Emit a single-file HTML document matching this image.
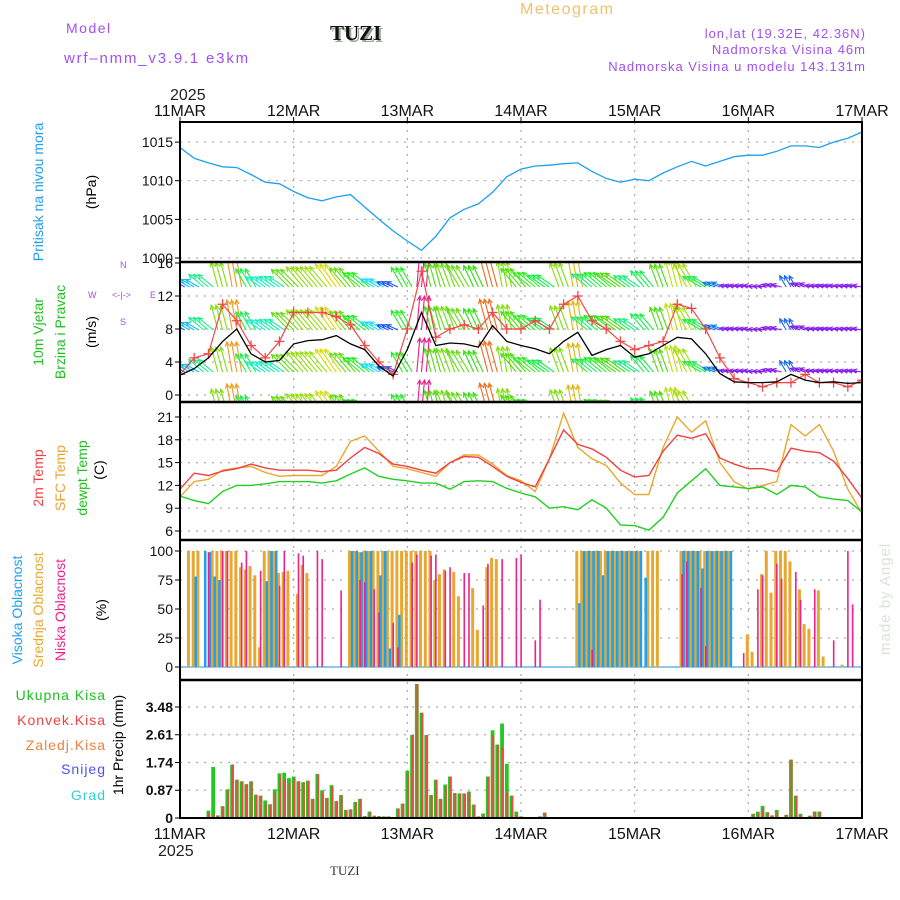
<!DOCTYPE html>
<html><head><meta charset="utf-8"><style>
html,body{margin:0;padding:0;background:#fff;}
svg{display:block;font-family:"Liberation Sans",sans-serif;}
</style></head><body>
<svg id="chart" width="900" height="900" viewBox="0 0 900 900" xmlns="http://www.w3.org/2000/svg">
<rect width="900" height="900" fill="#fff"/>
<text x="66" y="33" font-size="14" fill="#a050f0" letter-spacing="1.5">Model</text>
<text x="64" y="63" font-size="15" fill="#a050f0" letter-spacing="1.8">wrf–nmm_v3.9.1 e3km</text>
<text x="332" y="42" font-size="21" font-weight="bold" font-family="Liberation Serif,serif" fill="#9a9">TUZI</text>
<text x="330" y="40" font-size="21" font-weight="bold" font-family="Liberation Serif,serif" fill="#111">TUZI</text>
<text x="520" y="14" font-size="16" fill="#f0c070" letter-spacing="1.5">Meteogram</text>
<g font-size="13" fill="#a050f0" text-anchor="end" letter-spacing="1">
<text x="866" y="38">lon,lat (19.32E, 42.36N)</text>
<text x="866" y="54">Nadmorska Visina 46m</text>
<text x="866" y="71">Nadmorska Visina u modelu 143.131m</text>
</g>
<text x="170" y="100" font-size="16" fill="#222">2025</text>
<text x="158" y="856" font-size="16" fill="#222">2025</text>
<text x="330" y="875" font-size="13" font-family="Liberation Serif,serif" fill="#333">TUZI</text>
<text transform="translate(890,655) rotate(-90)" font-size="15" fill="#d8e4d8" letter-spacing="1">made by Angel</text>

<g font-size="14">
<text transform="translate(43,192) rotate(-90)" text-anchor="middle" fill="#1ea0f0">Pritisak na nivou mora</text>
<text transform="translate(96,192) rotate(-90)" text-anchor="middle" fill="#000">(hPa)</text>
<text transform="translate(43,332) rotate(-90)" text-anchor="middle" fill="#20c020">10m Vjetar</text>
<text transform="translate(65,332) rotate(-90)" text-anchor="middle" fill="#20c020">Brzina i Pravac</text>
<text transform="translate(96,332) rotate(-90)" text-anchor="middle" fill="#000">(m/s)</text>
<text transform="translate(43,478) rotate(-90)" text-anchor="middle" fill="#f04040">2m Temp</text>
<text transform="translate(65,478) rotate(-90)" text-anchor="middle" fill="#f0a030">SFC Temp</text>
<text transform="translate(87,478) rotate(-90)" text-anchor="middle" fill="#20c020">dewpt Temp</text>
<text transform="translate(104,470) rotate(-90)" text-anchor="middle" fill="#000">(C)</text>
<text transform="translate(22,610) rotate(-90)" text-anchor="middle" fill="#1ea0f0">Visoka Oblacnost</text>
<text transform="translate(43,610) rotate(-90)" text-anchor="middle" fill="#e8a830">Srednja Oblacnost</text>
<text transform="translate(65,610) rotate(-90)" text-anchor="middle" fill="#f0208a">Niska Oblacnost</text>
<text transform="translate(106,610) rotate(-90)" text-anchor="middle" fill="#000">(%)</text>
<text transform="translate(123,745) rotate(-90)" text-anchor="middle" fill="#000">1hr Precip (mm)</text>
</g>
<g font-size="14" text-anchor="end" letter-spacing="1">
<text x="106" y="700" fill="#20c020">Ukupna Kisa</text>
<text x="106" y="725" fill="#f04040">Konvek.Kisa</text>
<text x="106" y="750" fill="#f08040">Zaledj.Kisa</text>
<text x="106" y="774" fill="#5050f0">Snijeg</text>
<text x="106" y="800" fill="#30d0d0">Grad</text>
</g>
<g font-size="9" fill="#a050f0">
<text x="120" y="268">N</text>
<text x="88" y="298">W</text>
<text x="150" y="298">E</text>
<text x="112" y="298">&lt;-|-&gt;</text>
<text x="120" y="325">S</text>
</g>
<g id="plot"></g>
</svg>
<script>
// ---- data (3-hourly, starting 11 MAR 00) ----
const dayLabels = ["11MAR","12MAR","13MAR","14MAR","15MAR","16MAR","17MAR"];
const pressureTicks = [1000,1005,1010,1015];
const windTicks = [0,4,8,12,16];
const tempTicks = [6,9,12,15,18,21];
const cloudTicks = [0,25,50,75,100];
const precipTicks = [0,0.87,1.74,2.61,3.48];
const pressure = [1014.3,1012.9,1012.3,1011.8,1011.7,1010.8,1009.8,1009.6,1008.6,1007.8,1007.4,1007.9,1008.2,1006.6,1005.0,1003.5,1002.2,1001.0,1002.8,1005.2,1006.3,1007.0,1008.5,1010.5,1011.5,1011.9,1012.0,1012.2,1012.3,1011.2,1010.3,1009.8,1010.2,1010.0,1011.0,1011.8,1012.5,1011.9,1012.5,1013.1,1013.3,1013.3,1013.8,1014.5,1014.5,1014.3,1015.0,1015.5,1016.3];
const windSpeed = [2.4,3.2,4.5,6.5,8.0,5.0,4.0,4.2,6.2,6.6,6.7,7.2,6.2,5.5,3.5,2.3,5.5,10.0,6.0,6.3,6.2,5.8,8.4,6.5,6.0,5.6,5.0,6.5,7.6,4.8,5.5,6.0,4.6,5.0,6.0,7.0,6.8,5.0,2.6,1.6,1.5,1.5,1.6,2.5,1.8,1.5,1.6,1.4,1.5];
const windGust = [2.5,4.5,5,11,9,6,4.5,6.5,10,10,10,9.5,8.5,6,4,2.5,8,15,7,8,8.5,8,10,8,8,9,8,11,12,9,8,6.5,5.5,6,6.5,11,10.5,8,4.5,2,1.5,1,1.5,1.5,2.5,1.5,1.5,1,1.8];
const windDir = [-60,-60,-50,-15,-10,-30,-55,-55,-45,-40,-40,-35,-40,-50,-60,-65,-30,5,-15,-20,-30,-25,-15,-10,-40,-50,-55,-20,-10,-50,-50,-55,-55,-40,-20,-15,-30,-60,-70,-80,-80,-85,-75,-30,-70,-80,-80,-80,-80];
const temp2m = [11.5,13.6,13.3,13.9,14.2,14.8,14.3,14.0,14.0,14.0,13.8,14.0,15.6,17.0,16.2,14.8,14.5,14.0,13.6,15.0,15.8,15.7,14.5,13.2,12.4,11.8,15.5,19.3,17.4,16.8,15.7,14.0,13.1,13.3,16.5,18.6,18.2,18.8,15.6,14.8,14.2,14.2,13.8,16.9,16.5,16.3,15.2,12.9,10.3];
const tempSfc = [10.5,12.5,12.8,14.0,14.3,14.5,13.7,13.2,13.3,13.3,13.3,14.5,17.8,18.5,16.5,14.5,14.2,13.7,13.2,15.0,16.0,16.0,14.8,13.3,12.6,11.2,15.5,21.5,17.0,15.5,14.6,12.3,10.8,10.8,17.0,21.0,19.0,20.5,15.0,12.5,11.5,12.0,12.5,20.0,18.5,20.0,16.5,11.5,8.3];
const dewpt = [10.6,10.0,9.6,11.2,12.0,12.0,12.2,12.5,12.5,12.5,12.3,12.6,13.5,14.3,13.2,12.8,12.6,12.3,12.3,11.5,12.5,12.6,12.5,11.6,11.0,10.5,9.0,9.2,8.8,10.1,9.0,6.8,6.7,6.1,7.8,11.0,12.6,14.2,12.0,11.8,11.6,11.8,10.8,12.0,11.8,10.5,10.2,10.0,8.5];
// ---- hourly sparse data ----
const highHours = [3,5,6,7,8,18,19,20,36,37,38,39,40,42,43,44,46,84,85,86,87,88,89,90,91,92,93,94,95,96,97,98,106,107,108,109,110,111,112,113,114,115,116];
const highVals  = [78,100,99,78,75,74,100,100,100,100,99,100,100,79,100,16,45,55,100,100,100,100,79,100,100,100,100,100,100,100,100,77,100,100,100,100,85,100,100,100,100,100,100];
const midHours = [2,3,4,7,8,9,10,11,12,13,14,15,16,17,18,19,20,21,22,23,25,26,27,36,37,38,39,40,41,42,43,44,45,46,47,48,49,50,51,52,53,54,55,56,58,59,62,63,65,66,67,84,85,86,87,88,89,90,91,92,93,94,95,96,97,99,100,101,106,107,108,109,110,111,112,113,114,115,116,120,121,123,124,125,126,127,128,129,131,132,133,135,136,140];
const midVals  = [100,100,100,100,100,100,100,100,100,86,84,87,79,17,100,100,100,81,82,83,63,88,81,100,100,99,100,100,100,100,100,100,100,100,100,100,100,100,100,100,100,75,80,84,82,61,68,32,86,94,93,100,100,100,100,100,100,100,100,100,100,100,100,100,100,100,100,100,100,100,100,100,100,100,100,100,100,100,100,28,13,80,100,64,100,100,100,91,67,37,33,66,9,2];
const lowHours = [6,9,10,13,14,17,21,22,25,26,29,30,34,38,39,41,42,45,46,49,50,53,54,56,57,60,61,64,65,68,71,72,75,76,87,106,107,110,111,119,122,123,126,127,130,131,134,138,141,142];
const lowVals  = [99,100,100,90,100,83,70,100,98,96,100,93,66,75,73,67,47,38,17,90,97,96,97,83,86,81,81,53,89,93,94,97,23,58,15,80,91,68,18,12,67,79,89,76,82,58,67,23,100,54];
const rainHours = [6,7,8,9,10,11,12,13,14,15,16,17,18,19,20,21,22,23,24,25,26,27,28,29,30,31,32,33,34,35,36,37,38,39,40,41,42,43,44,46,47,48,49,50,51,52,53,54,55,56,57,58,59,60,61,62,63,64,65,66,67,68,69,70,71,72,73,76,77,88,110,121,122,123,124,125,126,128,129,130,131,132,133,134,135,136];
const rainTotal = [0.23,1.6,0.08,0.37,0.9,1.67,1.2,1.15,1.06,1.15,0.73,0.7,0.55,0.43,0.9,1.4,1.42,1.25,1.3,1.15,1.12,1.17,0.6,1.38,0.87,0.63,1.03,0.53,0.72,0.25,0.27,0.5,0.6,0.06,0.2,0.07,0.06,0.05,0.05,0.3,0.45,1.48,2.6,4.2,3.3,2.6,0.72,1.2,0.6,1.05,1.3,0.78,0.77,0.77,0.83,0.42,0.05,0.14,1.3,2.75,2.3,2.96,1.7,0.7,0.2,0.05,0.02,0.05,0.17,0.03,0.03,0.13,0.2,0.38,0.18,0.08,0.25,0.1,1.83,0.7,0.13,0.02,0.07,0.2,0.2,0.02];
const rainConv  = [0.15,0.13,0.08,0.37,0.87,1.68,1.2,1.15,1.06,1.15,0.73,0.7,0.45,0.43,0.8,1.35,1.2,1.1,1.25,1.15,1.12,1.17,0.6,1.38,0.8,0.63,1.0,0.53,0.72,0.25,0.27,0.5,0.6,0.06,0.2,0.07,0.06,0.05,0.05,0.3,0.45,1.4,2.6,4.2,3.3,2.6,0.72,1.2,0.6,1.0,1.3,0.78,0.77,0.77,0.8,0.42,0.05,0.1,1.3,2.6,2.3,2.2,0.8,0.7,0.1,0.05,0.02,0.05,0.17,0,0,0.13,0.15,0.3,0.18,0.08,0.2,0.1,1.83,0.7,0.08,0.02,0.07,0.2,0.2,0.02];

// ---- axes ----
const X0=180, X1=862, DAYW=(X1-X0)/6;
const xDay = d => X0 + d*DAYW;
const xHour = h => X0 + h*DAYW/24;
const yP = v => 258 - (v-1000)*7.73;
const yW = v => 395 - v*8.25;
const yT = v => 531 - (v-6)*7.6;
const yC = v => 667 - v*1.16;
const yR = v => 818 - v*31.9;
const NS='http://www.w3.org/2000/svg';
const plot=document.getElementById('plot');
function mk(tag,attrs,parent){const e=document.createElementNS(NS,tag);for(const k in attrs)e.setAttribute(k,attrs[k]);(parent||plot).appendChild(e);return e;}

const defs=mk('defs',{});
const panels=[['clip-p',122,262],['clip-w',262,402],['clip-t',402,540],['clip-c',540,680],['clip-r',680,818]];
panels.forEach(p=>{const c=mk('clipPath',{id:p[0]},defs);mk('rect',{x:X0,y:p[1],width:X1-X0,height:p[2]-p[1]},c);});

const grid=mk('g',{stroke:'#aaa','stroke-width':1.2,'stroke-dasharray':'2 6'});


for(let d=1;d<6;d++){const l=mk('line',{x1:xDay(d),x2:xDay(d),y1:122,y2:818},grid);}
function hgrid(ticks,yf,lo,hi){ticks.forEach(t=>{const y=yf(t);if(y<=lo+1||y>=hi-1)return;const l=mk('line',{x1:X0,x2:X1,y1:y,y2:y},grid);});}
hgrid(pressureTicks,yP,122,262);hgrid(windTicks,yW,262,402);hgrid(tempTicks,yT,402,540);hgrid(cloudTicks,yC,540,680);hgrid(precipTicks,yR,680,818);

const tl=mk('g',{'font-size':14,fill:'#111','text-anchor':'end'});


function ylabels(ticks,yf,fmt,bold){ticks.forEach(t=>{const y=yf(t);const tx=mk('text',{x:173,y:y+5,'font-weight':bold?'bold':'normal'},tl);tx.textContent=fmt(t);const tk=mk('line',{x1:X0-5,x2:X0,y1:y,y2:y,stroke:'#000'},tl);});}
ylabels(pressureTicks,yP,String);ylabels(windTicks,yW,String);ylabels(tempTicks,yT,String);ylabels(cloudTicks,yC,String);ylabels(precipTicks,yR,t=>t===0?'0':t.toFixed(2),true);

dayLabels.forEach((lab,i)=>{
 const a=mk('text',{x:xDay(i),y:116,'font-size':16,fill:'#111','text-anchor':'middle'});a.textContent=lab;
 
 
 const b=mk('text',{x:xDay(i),y:839,'font-size':16,fill:'#111','text-anchor':'middle'});b.textContent=lab;
 
 
 const t1=mk('line',{x1:xDay(i),x2:xDay(i),y1:117,y2:122,stroke:'#000'});
});

const pts=(arr,yf)=>arr.map((v,i)=>xDay(i*0.125).toFixed(1)+','+yf(v).toFixed(1)).join(' ');

const pl=mk('polyline',{points:pts(pressure,yP),fill:'none',stroke:'#1ea0f0','stroke-width':1.3,'clip-path':'url(#clip-p)'});



// wind arrows
function spdColor(s){let h=300-s*33;if(h<-40)h=-40;if(s<=1.8)h=270;h=(h+360)%360;return 'hsl('+h.toFixed(0)+',88%,'+(h>40&&h<110?'46%':'52%')+')';}
const wa=mk('g',{'clip-path':'url(#clip-w)','stroke-width':1.1,fill:'none'});


const rows=[287,330,372,414];
for(let h=0;h<=144;h++){
 const i=Math.round(h/3);const s=windSpeed[i];const dir=windDir[i]*Math.PI/180;
 const len=Math.min(34,5+s*3.2);const col=spdColor(s);
 rows.forEach(by=>{
  const x=xHour(h);const ex=x+len*Math.sin(dir),ey=by-len*Math.cos(dir);
  const a1=dir+Math.PI+0.45,a2=dir+Math.PI-0.45;
  const d='M'+x.toFixed(1)+' '+by+'L'+ex.toFixed(1)+' '+ey.toFixed(1)+'M'+(ex+5*Math.sin(a1)).toFixed(1)+' '+(ey-5*Math.cos(a1)).toFixed(1)+'L'+ex.toFixed(1)+' '+ey.toFixed(1)+'L'+(ex+5*Math.sin(a2)).toFixed(1)+' '+(ey-5*Math.cos(a2)).toFixed(1);
  const p=mk('path',{d:d,stroke:col},wa);
  
  
 });
}
const gl=mk('polyline',{points:pts(windGust,yW),fill:'none',stroke:'#f04848','stroke-width':1.2,'clip-path':'url(#clip-w)'});


windGust.forEach((v,i)=>{const x=xDay(i*0.125),y=yW(v);
 const m=mk('path',{d:`M${x-5} ${y}H${x+5}M${x} ${y-5}V${y+5}`,stroke:'#f04848','stroke-width':1.3,'clip-path':'url(#clip-w)'});
 
 
});
const sl=mk('polyline',{points:pts(windSpeed,yW),fill:'none',stroke:'#000','stroke-width':1.3,'clip-path':'url(#clip-w)'});



[[tempSfc,'#e8a830','sfc-temp-line'],[temp2m,'#f04040','t2m-line'],[dewpt,'#20d020','dewpoint-line']].forEach(s=>{
 const l=mk('polyline',{points:pts(s[0],yT),fill:'none',stroke:s[1],'stroke-width':1.4,'clip-path':'url(#clip-t)'});
 
 
});

const cg=mk('g',{'clip-path':'url(#clip-c)'});


const base=mk('line',{x1:X0,x2:X1,y1:yC(0),y2:yC(0),stroke:'#6ab8e8','stroke-width':1.5},cg);


midHours.forEach((h,i)=>{const r=mk('rect',{x:xHour(h)-2.5,y:yC(midVals[i]),width:3,height:yC(0)-yC(midVals[i]),fill:'#e8a830'},cg);});
highHours.forEach((h,i)=>{const r=mk('rect',{x:xHour(h)+0.3,y:yC(highVals[i]),width:2.5,height:yC(0)-yC(highVals[i]),fill:'#1ea0f0'},cg);});
lowHours.forEach((h,i)=>{const r=mk('rect',{x:xHour(h)-0.7,y:yC(lowVals[i]),width:1.6,height:yC(0)-yC(lowVals[i]),fill:'#f0208a'},cg);});

const rg=mk('g',{'clip-path':'url(#clip-r)'});


rainHours.forEach((h,i)=>{
 const x=xHour(h);
 const g=mk('rect',{x:x-1.9,y:yR(rainTotal[i]),width:3.8,height:yR(0)-yR(rainTotal[i]),fill:'#20c820'},rg);
 
 
 const r=mk('rect',{x:x-0.4,y:yR(rainConv[i]),width:2,height:yR(0)-yR(rainConv[i]),fill:'#f04848'},rg);
 
 
});

const fr=mk('g',{stroke:'#000',fill:'none'});


const box=mk('rect',{x:X0,y:122,width:X1-X0,height:696,'stroke-width':2},fr);


[262,402,540,680].forEach(y=>{const l=mk('line',{x1:X0,x2:X1,y1:y,y2:y,'stroke-width':2.5},fr);});
</script>
</body></html>
